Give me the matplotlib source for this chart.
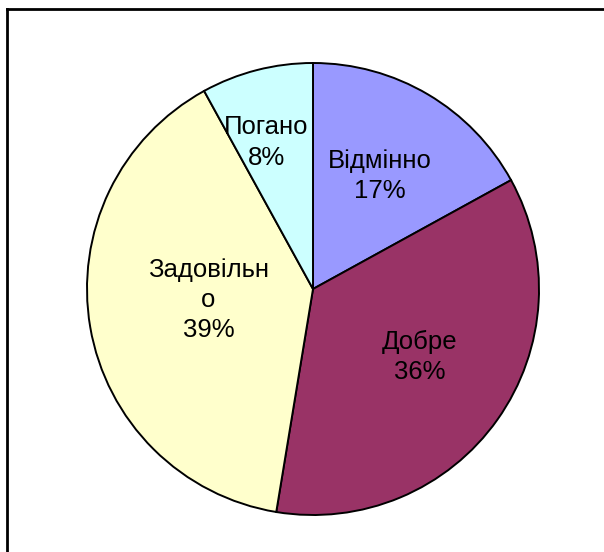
import numpy as np
import matplotlib
matplotlib.use("Agg")
import matplotlib.pyplot as plt
from matplotlib.lines import Line2D

categories = ["Відмінно", "Добре", "Задовільн\nо", "Погано"]
values = [17.0, 35.6, 39.4, 8.0]
colors = ["#9999FF", "#993366", "#FFFFCC", "#CCFFFF"]
# label placement tweaks (radius fraction, angle offset in degrees)
label_r = [0.58, 0.56, 0.465, 0.68]
label_dang = [0, 2.9, -3.7, 3.3]

plt.rcParams['font.family'] = ['Liberation Sans', 'DejaVu Sans']

fig = plt.figure(figsize=(6.04, 5.52), dpi=100)
ax = fig.add_axes([87/604, 37/552, 452/604, 452/552])
wedges, _ = ax.pie(values, colors=colors, startangle=90, counterclock=False,
                   wedgeprops=dict(edgecolor="black", linewidth=1.4), radius=1.0)
ax.set_xlim(-1, 1)
ax.set_ylim(-1, 1)
ax.set_aspect('equal')
ax.axis('off')

total = sum(values)
for w, cat, v, r, da in zip(wedges, categories, values, label_r, label_dang):
    ang = np.deg2rad((w.theta1 + w.theta2) / 2 + da)
    pct = round(100 * v / total)
    ax.text(r * np.cos(ang), r * np.sin(ang), f"{cat}\n{pct}%", ha='center', va='center',
            fontsize=18.5, linespacing=1.33, color='black')

# outer frame (top and left visible)
fig.add_artist(Line2D([7/604, 1], [1 - 9/552, 1 - 9/552], color='black', lw=2.0, transform=fig.transFigure))
fig.add_artist(Line2D([7/604, 7/604], [0, 1 - 9/552], color='black', lw=2.0, transform=fig.transFigure))

fig.savefig("out.png", dpi=100)
